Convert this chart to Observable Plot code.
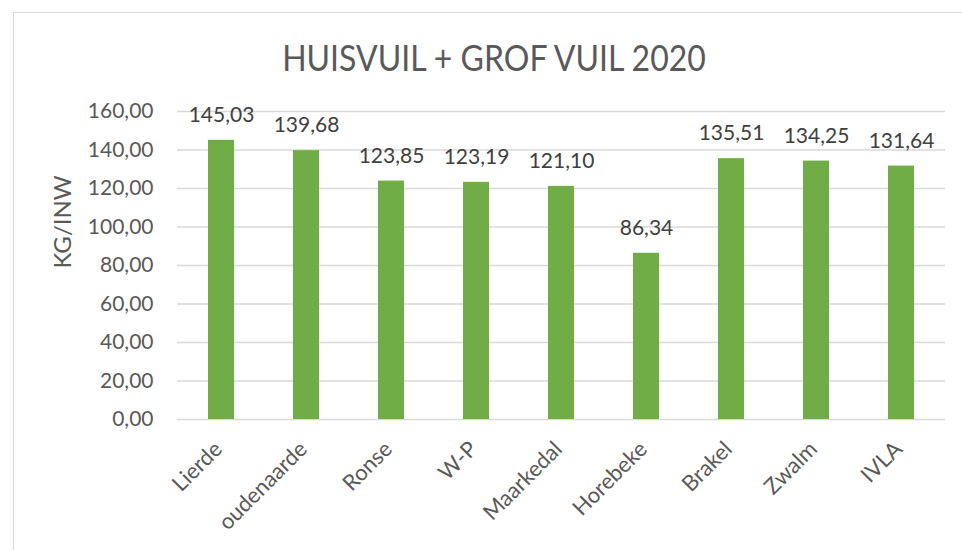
<!DOCTYPE html>
<html>
<head>
<meta charset="utf-8">
<script src="https://cdn.jsdelivr.net/npm/d3@7"></script>
<script src="https://cdn.jsdelivr.net/npm/@observablehq/plot@0.6"></script>
<style>
  html, body { margin: 0; padding: 0; background: #fff; overflow: hidden; }
  #wrap { position: relative; width: 962px; height: 550px; overflow: hidden; font-family: Lato, "Open Sans", sans-serif; }
  #border { position: absolute; left: 13px; top: 12px; width: 1000px; height: 600px; border: 1px solid #d9d9d9; box-sizing: border-box; }
  #title { position: absolute; left: 0; top: 35px; width: 988px; text-align: center; font-size: 32px; font-weight: 400; color: #595959; line-height: 44px; white-space: nowrap; transform: scaleY(1.15); transform-origin: 50% 50%; }
  #chart { position: absolute; left: 0; top: 90px; }
</style>
</head>
<body>
<div id="wrap">
  <div id="border"></div>
  <div id="title">HUISVUIL + GROF VUIL 2020</div>
  <div id="chart"></div>
</div>
<script>
const categories = ["Lierde", "oudenaarde", "Ronse", "W-P", "Maarkedal", "Horebeke", "Brakel", "Zwalm", "IVLA"];
const values = [145.03, 139.68, 123.85, 123.19, 121.10, 86.34, 135.51, 134.25, 131.64];
const yTicks = [0, 20, 40, 60, 80, 100, 120, 140, 160];
const yLabel = "KG/INW";

const data = categories.map((c, i) => ({category: c, value: values[i]}));
const fmt = v => v.toFixed(2).replace(".", ",");

const chart = Plot.plot({
  width: 962,
  height: 460,
  marginLeft: 177,
  marginRight: 17,
  marginTop: 21,
  marginBottom: 131,
  style: {fontFamily: "Lato, 'Open Sans', sans-serif", fontSize: "21px", color: "#595959", background: "transparent"},
  x: {domain: categories, paddingInner: 0.69, paddingOuter: 0.345, label: null},
  y: {domain: [0, 160], label: null},
  marks: [
    Plot.ruleY(yTicks, {stroke: "#d9d9d9", strokeWidth: 1.5}),
    Plot.barY(data, {x: "category", y: "value", fill: "#70AD47"}),
    Plot.text(data, {x: "category", y: "value", text: d => fmt(d.value), dy: -25, fill: "#404040", fontSize: 21}),
    Plot.axisY({ticks: yTicks, tickFormat: fmt, tickSize: 0, tickPadding: 24, label: null, fontSize: 21}),
    Plot.axisX({tickRotate: -45, tickSize: 0, tickPadding: 12, dx: -3, dy: 14, label: null, fontSize: 22}),
    Plot.text([yLabel], {frameAnchor: "left", rotate: -90, dx: -114, dy: 3, fontSize: 24, fill: "#595959"})
  ]
});
document.getElementById("chart").appendChild(chart);
</script>
</body>
</html>
